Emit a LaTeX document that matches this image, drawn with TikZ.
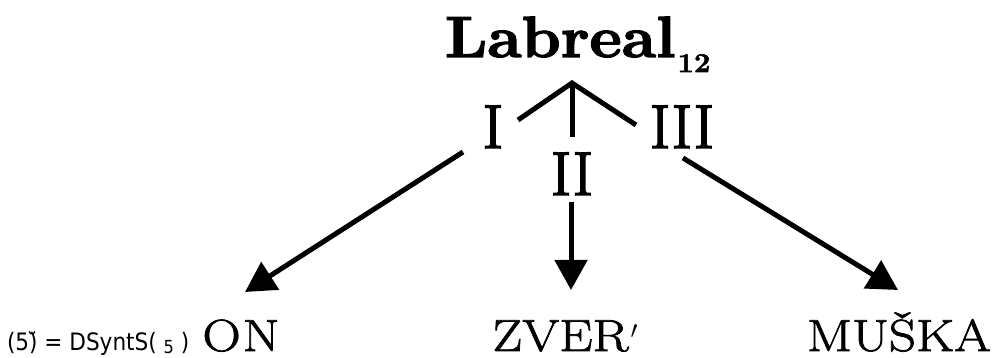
\documentclass[tikz,border=0pt]{standalone}
\usepackage{fontspec}
\newfontfamily\glossfont{DejaVu Sans}[FakeStretch=0.9]
\newfontfamily\lexfont{Latin Modern Roman}[FakeBold=1.6, FakeStretch=1.18]
\newfontfamily\relfont{Latin Modern Roman}[FakeBold=2.4]
\newfontfamily\headfont{Latin Modern Roman}[FakeBold=2.4, FakeStretch=1.08]
\usetikzlibrary{arrows.meta}
\begin{document}
\begin{tikzpicture}[x=1pt,y=-1pt,
  every node/.style={inner sep=0pt,outer sep=0pt},
  branch/.style={line width=5pt},
  dep/.style={line width=5pt,-{Triangle[length=30pt,width=32pt]}},
  lex/.style={font=\lexfont\fontsize{45}{45}\selectfont, anchor=base},
  rel/.style={font=\relfont\fontsize{62}{62}\selectfont, anchor=base}]
\useasboundingbox (0,0) rectangle (997,358);

% head lexeme with its lexical number
\node[anchor=base west, font=\headfont\bfseries\fontsize{58}{58}\selectfont] (head) at (445,57)
  {Labreal\hspace{2pt}\raisebox{-15pt}{\fontsize{27}{27}\selectfont 12}};

% branching caret under the head
\coordinate (apex) at (572,83);
\coordinate (armI) at (518,120);
\coordinate (armII) at (572,137);
\coordinate (armIII) at (636,125);
\draw[branch] (armI) -- (apex) -- (armIII);
\draw[branch] (apex) -- (armII);

% deep-syntactic relation labels
\node[rel] (I) at (493,148) {I};
\node[rel] (II) at (572,195) {II};
\node[rel] (III) at (682,148) {III};

% dependent lexemes
\node[lex] (ON) at (241,351) {O\kern2pt N};
\node[lex] (ZVER) at (565,351) {ZVER\kern2pt\raisebox{13pt}{\fontsize{26}{26}\selectfont$\prime$}};
\node[lex] (MUSKA) at (899,351) {MUŠKA};

% example label
\node[anchor=base west, font=\glossfont\fontsize{24}{24}\selectfont] (label) at (7,351)
  {(5)̆ = DSyntS( \raisebox{-3pt}{\fontsize{18}{18}\selectfont 5} )};

% arrows from the relation labels to the dependents
\coordinate (tailI) at (463,152);
\coordinate (tipON) at (245,292);
\coordinate (tailII) at (571,202);
\coordinate (tipZVER) at (571,290);
\coordinate (tailIII) at (683,158);
\coordinate (tipMUSKA) at (898,290);
\draw[dep] (tailI) -- (tipON);
\draw[dep] (tailII) -- (tipZVER);
\draw[dep] (tailIII) -- (tipMUSKA);
\end{tikzpicture}
\end{document}
